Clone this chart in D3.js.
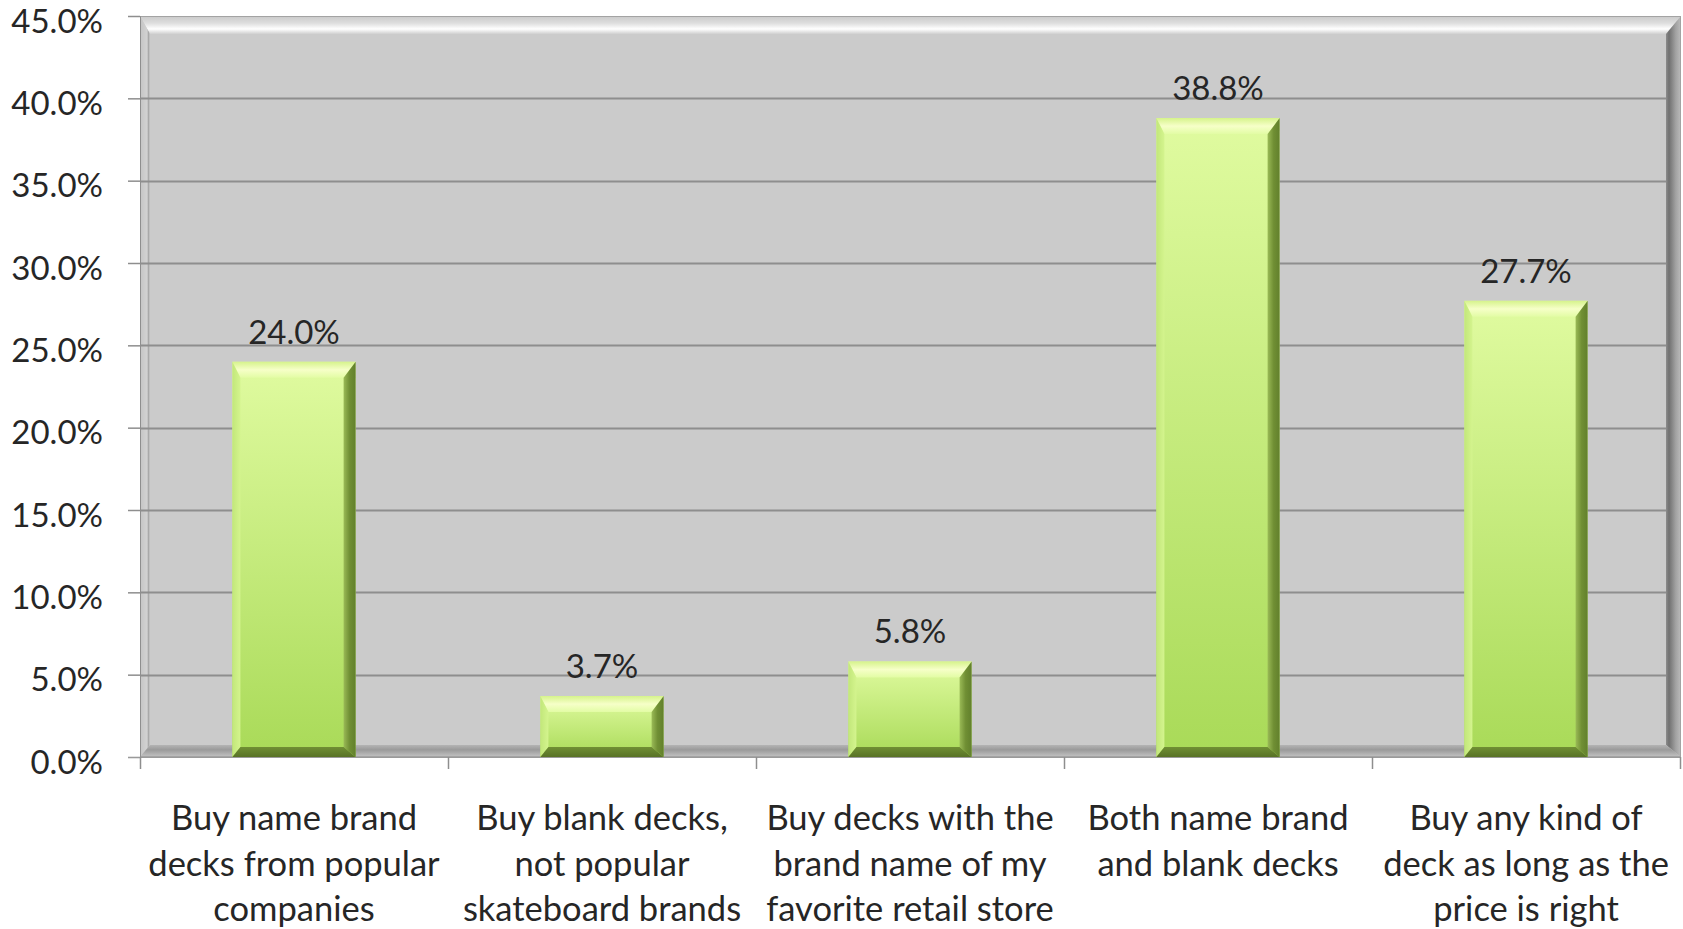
<!DOCTYPE html>
<html>
<head>
<meta charset="utf-8">
<script src="https://cdn.jsdelivr.net/npm/d3@7"></script>
<style>
  html, body { margin: 0; padding: 0; background: #ffffff; }
  svg { display: block; }
  text { font-family: Lato, "Open Sans", sans-serif; fill: #262626; }
</style>
</head>
<body>
<svg id="chart" width="1683" height="929"></svg>
<script>
// Survey answers: which kind of skateboard deck people buy
const categories = [
  "Buy name brand decks from popular companies",
  "Buy blank decks, not popular skateboard brands",
  "Buy decks with the brand name of my favorite retail store",
  "Both name brand and blank decks",
  "Buy any kind of deck as long as the price is right"
];
const categoryLines = [
  ["Buy name brand", "decks from popular", "companies"],
  ["Buy blank decks,", "not popular", "skateboard brands"],
  ["Buy decks with the", "brand name of my", "favorite retail store"],
  ["Both name brand", "and blank decks"],
  ["Buy any kind of", "deck as long as the", "price is right"]
];
const shares = [24.0, 3.7, 5.8, 38.8, 27.7];
const yTicks = [0, 5, 10, 15, 20, 25, 30, 35, 40, 45];

const svg = d3.select("#chart");
const plotL = 140, plotR = 1681, plotT = 16, plotB = 757;
const fontSize = 33, catFontSize = 34.5;

const x = d3.scaleBand().domain(categories).range([plotL, plotR - 1]).paddingInner(0.6).paddingOuter(0.3);
const y = d3.scaleLinear().domain([0, 45]).range([plotB, plotT]);

const defs = svg.append("defs");
function grad(id, x2, y2, stops) {
  const g = defs.append("linearGradient").attr("id", id)
    .attr("x1", 0).attr("y1", 0).attr("x2", x2).attr("y2", y2);
  stops.forEach(([o, c]) => g.append("stop").attr("offset", o).attr("stop-color", c));
}
// plot-area bevel
grad("pTop", 0, 1, [[0, "#c9c9c9"], [0.4, "#dedede"], [0.72, "#ffffff"], [1, "#cfcfcf"]]);
grad("pLeft", 1, 0, [[0, "#c4c4c4"], [0.7, "#d2d2d2"], [0.85, "#a9a9a9"], [1, "#cacaca"]]);
grad("pRight", 1, 0, [[0, "#8c8c8c"], [0.2, "#707070"], [0.65, "#a2a2a2"], [1, "#bcbcbc"]]);
grad("pBottom", 0, 1, [[0, "#b4b4b4"], [0.4, "#9a9a9a"], [1, "#c4c4c4"]]);
// bar bevel
grad("bFace", 0, 1, [[0, "#e0fba0"], [1, "#a9da58"]]);
grad("bTop", 0, 1, [[0, "#d6f38c"], [0.5, "#f6ffc8"], [1, "#e2fca4"]]);
grad("bLeft", 1, 0, [[0, "#c2e77a"], [1, "#d4f48e"]]);
grad("bRight", 1, 0, [[0, "#9aba56"], [0.5, "#708f34"], [1, "#62802c"]]);
grad("bBottom", 0, 1, [[0, "#708f34"], [1, "#587226"]]);

// plot area with bevelled frame
const bt = 18, bl = 10, br = 15, bb = 12;
const frame = svg.append("g");
frame.append("rect").attr("x", plotL).attr("y", plotT).attr("width", plotR - plotL).attr("height", plotB - plotT)
  .attr("fill", "#cbcbcb");
const poly = (pts, fill) => frame.append("polygon").attr("points", pts.map(p => p.join(",")).join(" ")).attr("fill", fill);
poly([[plotL, plotT], [plotR, plotT], [plotR - br, plotT + bt], [plotL + bl, plotT + bt]], "url(#pTop)");
poly([[plotL, plotT], [plotL + bl, plotT + bt], [plotL + bl, plotB - bb], [plotL, plotB]], "url(#pLeft)");
poly([[plotR, plotT], [plotR, plotB], [plotR - br, plotB - bb], [plotR - br, plotT + bt]], "url(#pRight)");
poly([[plotL, plotB], [plotR, plotB], [plotR - br, plotB - bb], [plotL + bl, plotB - bb]], "url(#pBottom)");
frame.append("rect").attr("x", plotL + 0.5).attr("y", plotT + 0.5).attr("width", plotR - plotL - 1).attr("height", plotB - plotT - 1)
  .attr("fill", "none").attr("stroke", "#a3a3a3");

// horizontal gridlines (the top one is the frame edge)
svg.append("g").selectAll("line").data(yTicks.filter(t => t > 0 && t < 45)).join("line")
  .attr("x1", plotL).attr("x2", plotR - br)
  .attr("y1", d => Math.round(y(d)) + 0.5).attr("y2", d => Math.round(y(d)) + 0.5)
  .attr("stroke", "#8e8e8e").attr("stroke-width", 2);

// y axis
const yAxis = svg.append("g").attr("transform", `translate(${plotL},0)`)
  .call(d3.axisLeft(y).tickValues(yTicks).tickSize(12).tickPadding(25).tickFormat(d => d.toFixed(1) + "%"));
yAxis.select(".domain").attr("stroke", "#8e8e8e");
yAxis.selectAll(".tick line").attr("stroke", "#8e8e8e").attr("stroke-width", 1.5);
yAxis.selectAll(".tick text").attr("font-size", fontSize).attr("font-family", "Lato").attr("fill", "#262626")
  .attr("dy", null).attr("y", 16);

// bars with bevelled faces
const bars = svg.append("g").selectAll("g").data(shares).join("g");
const tb = 16, lb = 8, rb = 12, bbv = 10;
bars.each(function (v, i) {
  const g = d3.select(this);
  const x0 = x(categories[i]), x1 = x0 + x.bandwidth();
  const y0 = y(v), y1 = y(0);
  const p = (pts, fill) => g.append("polygon").attr("points", pts.map(q => q.join(",")).join(" ")).attr("fill", fill);
  g.append("rect").attr("x", x0).attr("y", y0).attr("width", x1 - x0).attr("height", y1 - y0).attr("fill", "url(#bFace)");
  p([[x0, y0], [x1, y0], [x1 - rb, y0 + tb], [x0 + lb, y0 + tb]], "url(#bTop)");
  p([[x0, y0], [x0 + lb, y0 + tb], [x0 + lb, y1 - bbv], [x0, y1]], "url(#bLeft)");
  p([[x1, y0], [x1, y1], [x1 - rb, y1 - bbv], [x1 - rb, y0 + tb]], "url(#bRight)");
  p([[x0, y1], [x1, y1], [x1 - rb, y1 - bbv], [x0 + lb, y1 - bbv]], "url(#bBottom)");
});

// value labels
svg.append("g").selectAll("text").data(shares).join("text")
  .attr("x", (d, i) => x(categories[i]) + x.bandwidth() / 2)
  .attr("y", d => y(d) - 18)
  .attr("text-anchor", "middle").attr("font-size", fontSize)
  .text(d => d.toFixed(1) + "%");

// x axis: category separators and wrapped labels
const xAxis = svg.append("g").attr("transform", `translate(0,${plotB})`);
xAxis.append("line").attr("x1", plotL - 12).attr("x2", plotR).attr("y1", 0.5).attr("y2", 0.5).attr("stroke", "#9a9a9a");
const step = x.step();
xAxis.selectAll("line.sep").data(d3.range(categories.length + 1)).join("line").attr("class", "sep")
  .attr("x1", i => Math.round(plotL + i * step) + 0.5).attr("x2", i => Math.round(plotL + i * step) + 0.5)
  .attr("y1", 0).attr("y2", 12).attr("stroke", "#8e8e8e").attr("stroke-width", 1.5);
const labels = xAxis.selectAll("text.cat").data(categoryLines).join("text").attr("class", "cat")
  .attr("text-anchor", "middle").attr("font-size", catFontSize)
  .attr("transform", (d, i) => `translate(${x(categories[i]) + x.bandwidth() / 2},${830 - plotB})`);
labels.selectAll("tspan").data(d => d).join("tspan")
  .attr("x", 0).attr("dy", (d, j) => j === 0 ? 0 : 45.5).text(d => d);
</script>
</body>
</html>
